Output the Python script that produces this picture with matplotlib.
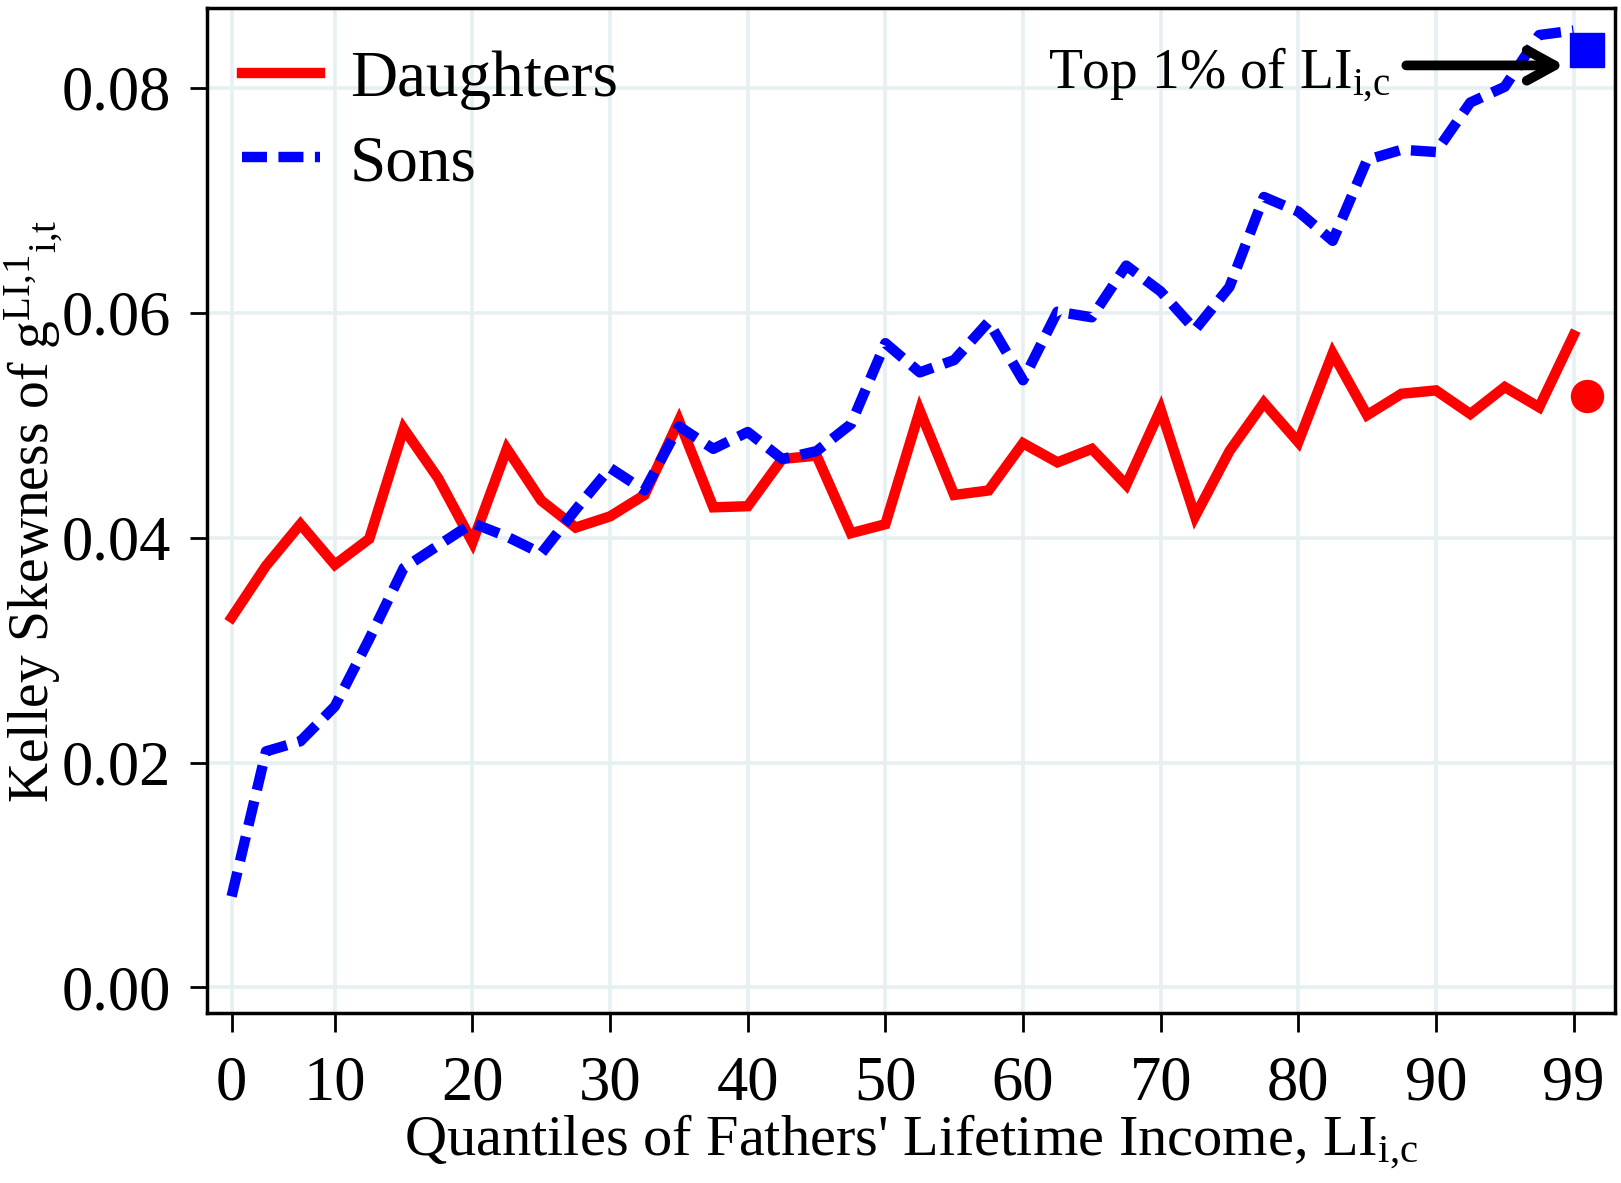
import matplotlib
matplotlib.use('Agg')
import matplotlib.pyplot as plt

# quantile positions (2.5 ... 100) and estimated Kelley skewness values
quantiles = [2.5 * (i + 1) for i in range(40)]
daughters = [0.0329, 0.0375, 0.0412, 0.0376, 0.0399, 0.0497, 0.0453, 0.0396, 0.0479, 0.0433,
             0.0409, 0.0419, 0.0438, 0.0504, 0.0427, 0.0428, 0.0470, 0.0473, 0.0404, 0.0412,
             0.0513, 0.0438, 0.0442, 0.0484, 0.0467, 0.0479, 0.0447, 0.0514, 0.0419, 0.0477,
             0.0520, 0.0485, 0.0564, 0.0509, 0.0528, 0.0531, 0.0510, 0.0534, 0.0516, 0.0580]
sons = [0.0081, 0.0210, 0.0219, 0.0250, 0.0310, 0.0373, 0.0393, 0.0413, 0.0401, 0.0386,
        0.0425, 0.0462, 0.0442, 0.0499, 0.0479, 0.0494, 0.0470, 0.0477, 0.0501, 0.0573,
        0.0547, 0.0558, 0.0592, 0.0540, 0.0601, 0.0596, 0.0642, 0.0619, 0.0585, 0.0623,
        0.0703, 0.0690, 0.0664, 0.0736, 0.0745, 0.0743, 0.0787, 0.0801, 0.0847, 0.0851]

# top 1% points
top_x = 101.0
top_daughters = 0.0526
top_sons = 0.0834

xtick_pos = [2.5, 10, 20, 30, 40, 50, 60, 70, 80, 90, 100]
xtick_labels = ['0', '10', '20', '30', '40', '50', '60', '70', '80', '90', '99']
ytick_pos = [0.00, 0.02, 0.04, 0.06, 0.08]
ytick_labels = ['0.00', '0.02', '0.04', '0.06', '0.08']

plt.rcParams['font.family'] = ['Liberation Serif', 'DejaVu Serif']
plt.rcParams['mathtext.fontset'] = 'custom'
plt.rcParams['mathtext.rm'] = 'Liberation Serif'
plt.rcParams['mathtext.it'] = 'Liberation Serif:italic'

fig = plt.figure(figsize=(16.21, 11.83), dpi=100)
ax = fig.add_axes([0.1276, 0.1434, 0.8686, 0.8496])

grid_col = '#e6eff1'
for x in xtick_pos:
    ax.axvline(x, color=grid_col, lw=2.6, zorder=0)
for y in ytick_pos:
    ax.axhline(y, color=grid_col, lw=2.6, zorder=0)

ax.plot(quantiles, daughters, color='#ff0000', lw=7.5, solid_joinstyle='miter',
        label='Daughters', zorder=3)
ax.plot(quantiles, sons, color='#0000ff', lw=7.5, dashes=(2.4, 1.1),
        label='Sons', zorder=3)
ax.plot([top_x], [top_daughters], 'o', color='#ff0000', ms=23, zorder=4)
ax.plot([top_x], [top_sons], 's', color='#0000ff', ms=24, zorder=4)

ax.annotate('', xy=(99.35, 0.0820), xytext=(87.85, 0.0820),
            arrowprops=dict(arrowstyle='->,head_length=1.0,head_width=0.55',
                            lw=7, color='black', shrinkA=0, shrinkB=0,
                            mutation_scale=20, capstyle='round'))
ax.text(86.7, 0.0799, r'Top 1% of LI$_{\mathrm{i{,}c}}$', fontsize=40,
        ha='right', va='baseline')

ax.set_xlim(0.7, 103.0)
ax.set_ylim(-0.0023, 0.08708)
ax.set_xticks(xtick_pos)
ax.set_xticklabels(xtick_labels)
ax.set_yticks(ytick_pos)
ax.set_yticklabels(ytick_labels)
ax.tick_params(axis='x', labelsize=45, length=14, width=2, pad=16)
ax.tick_params(axis='y', labelsize=45, length=12, width=2, pad=14)

for sp in ax.spines.values():
    sp.set_linewidth(2.5)
    sp.set_color('black')

ax.set_xlabel(r"Quantiles of Fathers' Lifetime Income, LI$_{\mathrm{i{,}c}}$",
              fontsize=42, labelpad=0)
ax.set_ylabel(r'Kelley Skewness of g$^{\mathrm{LI{,}1}}{}_{\mathrm{i{,}t}}$',
              fontsize=40)
ax.yaxis.set_label_coords(-0.100, 0.5)

ax.legend(loc='upper left', bbox_to_anchor=(0.025, 0.958), frameon=False,
          fontsize=47, handlelength=1.2, handletextpad=0.45,
          labelspacing=0.37, borderpad=0, borderaxespad=0)

fig.savefig('out.png', dpi=100)
